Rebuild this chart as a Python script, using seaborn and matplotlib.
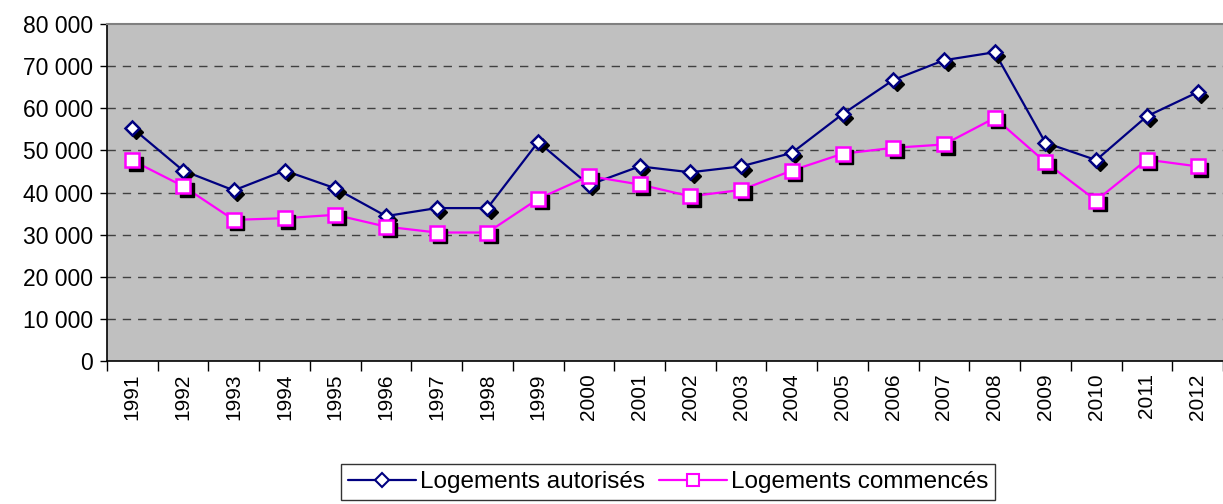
import numpy as np
import pandas as pd
import matplotlib
matplotlib.use("Agg")
import matplotlib.pyplot as plt
import matplotlib.transforms as mtransforms
from matplotlib.lines import Line2D
from matplotlib.ticker import FuncFormatter, FixedLocator
import seaborn as sns

years = [str(y) for y in range(1991, 2013)]
autorises = [55300, 45200, 40500, 45200, 41000, 34400, 36300, 36300, 52000, 41800,
             46200, 44800, 46200, 49400, 58600, 66700, 71400, 73300, 51800, 47700,
             58100, 63800]
commences = [47600, 41500, 33500, 33900, 34700, 31900, 30500, 30500, 38500, 43900,
             41900, 39100, 40600, 45200, 49200, 50600, 51400, 57700, 47200, 38100,
             47800, 46200]
y_ticks = [0, 10000, 20000, 30000, 40000, 50000, 60000, 70000, 80000]

sns.set_style("white")
plt.rcParams["font.family"] = ["Liberation Sans", "DejaVu Sans"]
plt.rcParams["text.color"] = "black"
plt.rcParams["xtick.color"] = "black"
plt.rcParams["ytick.color"] = "black"

df = pd.DataFrame({"pos": np.arange(len(years)), "annee": years,
                   "Logements autorisés": autorises,
                   "Logements commencés": commences})

series = [
    ("Logements autorisés", "#000080", "D", 7.4),
    ("Logements commencés", "#FF00FF", "s", 9.6),
]

fig = plt.figure(figsize=(12.23, 5.04), dpi=100)
ax = fig.add_axes([107 / 1223, 1 - 361 / 504, 1 - 107 / 1223, (361 - 24) / 504])
ax.set_facecolor("#C0C0C0")

# lignes
for name, color, marker, ms in series:
    sns.lineplot(data=df, x="pos", y=name, color=color, linewidth=1.6, ax=ax,
                 legend=False, zorder=3)

# ombres des marqueurs
shadow = mtransforms.offset_copy(ax.transData, fig=fig, x=3.5, y=-3.5, units="dots")
for name, color, marker, ms in series:
    ax.plot(df["pos"], df[name], linestyle="none", marker=marker, markersize=ms,
            color="black", markeredgecolor="black", transform=shadow, zorder=4)
    ax.plot(df["pos"], df[name], linestyle="none", marker=marker, markersize=ms,
            markerfacecolor="white", markeredgecolor=color, markeredgewidth=1.8,
            zorder=5)

ax.set_xlim(-0.5, len(years) - 0.5)
ax.set_ylim(0, 80000)
ax.set_xlabel("")
ax.set_ylabel("")

ax.yaxis.set_major_locator(FixedLocator(y_ticks))
ax.yaxis.set_major_formatter(FuncFormatter(lambda v, p: f"{int(v):,}".replace(",", " ")))
ax.set_xticks(np.arange(len(years)))
ax.set_xticklabels(years, rotation=90)
ax.set_xticks(np.arange(-0.5, len(years)), minor=True)

ax.tick_params(axis="y", which="major", left=True, length=5, width=1, color="black",
               labelsize=16.5, pad=5)
ax.tick_params(axis="x", which="major", bottom=False, length=0, labelsize=15, pad=9)
ax.tick_params(axis="x", which="minor", bottom=True, length=7, width=1, color="black")

for v in y_ticks[1:-1]:
    ax.axhline(v, color="#404040", linewidth=1, linestyle=(0, (6, 5)), zorder=1)

for side in ["left", "bottom"]:
    ax.spines[side].set_color("black")
    ax.spines[side].set_linewidth(1.2)
ax.spines["top"].set_color("#808080")
ax.spines["top"].set_linewidth(1.5)
ax.spines["right"].set_visible(False)

handles = [Line2D([], [], color=c, linewidth=1.6, marker=m, markersize=ms * 0.9,
                  markerfacecolor="white", markeredgecolor=c, markeredgewidth=1.5)
           for _, c, m, ms in series]
leg = fig.legend(handles, [s[0] for s in series], loc="center",
                 bbox_to_anchor=(668 / 1223, 1 - 482 / 504), ncol=2, frameon=True,
                 fancybox=False, edgecolor="black", fontsize=17.5, handlelength=2.8,
                 handletextpad=0.15, columnspacing=0.6, borderpad=0.3)
leg.get_frame().set_linewidth(1)

fig.savefig("out.png", dpi=100, facecolor="white")
